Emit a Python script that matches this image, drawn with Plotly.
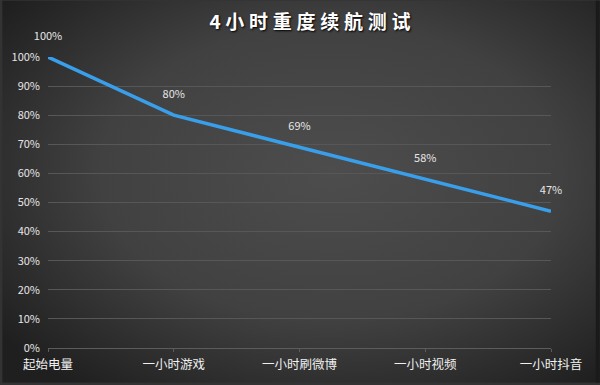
import base64
import plotly.graph_objects as go

categories = ["起始电量", "一小时游戏", "一小时刷微博", "一小时视频", "一小时抖音"]
battery = [100, 80, 69, 58, 47]
labels = ["100%", "80%", "69%", "58%", "47%"]
y_ticks = list(range(0, 101, 10))
y_tick_text = [f"{v}%" for v in y_ticks]
title = "4小时重度续航测试"

W, H = 600, 385
ML, MR, MT, MB = 46, 49, 57, 35
PW, PH = W - ML - MR, H - MT - MB

svg = (
    '<svg xmlns="http://www.w3.org/2000/svg" width="600" height="385" preserveAspectRatio="none">'
    '<defs><radialGradient id="g" cx="55%" cy="45%" r="70%">'
    '<stop offset="0" stop-color="#4d4d4d"/>'
    '<stop offset="0.55" stop-color="#414141"/>'
    '<stop offset="1" stop-color="#1f1f1f"/>'
    '</radialGradient></defs>'
    '<rect width="600" height="385" fill="url(#g)"/>'
    '<rect x="596" y="0" width="4" height="385" fill="#1a1a1a"/>'
    '</svg>'
)
bg = "data:image/svg+xml;base64," + base64.b64encode(svg.encode()).decode()

font_family = "Noto Sans CJK SC, Microsoft YaHei, sans-serif"
spaced_title = "\u2005".join(title)

fig = go.Figure()
fig.add_trace(go.Scatter(
    x=list(range(len(categories))),
    y=battery,
    mode="lines+markers+text",
    line=dict(color="#3a9fea", width=3.5),
    marker=dict(size=22, color="rgba(0,0,0,0)"),
    text=labels,
    textposition="top center",
    textfont=dict(color="#e6e6e6", size=11, family=font_family),
    hoverinfo="skip",
    cliponaxis=False,
))

fig.update_layout(
    width=W, height=H,
    margin=dict(l=ML, r=MR, t=MT, b=MB),
    paper_bgcolor="#333333",
    plot_bgcolor="rgba(0,0,0,0)",
    showlegend=False,
    images=[dict(source=bg, xref="paper", yref="paper",
                 x=-ML / PW, y=1 + MT / PH,
                 sizex=W / PW, sizey=H / PH, xanchor="left", yanchor="top",
                 sizing="stretch", layer="below")],
    title=dict(text=f"<b>{spaced_title}</b>", x=310 / W, xanchor="center", xref="container",
               y=1 - 22 / H, yanchor="middle",
               font=dict(size=19, color="#ffffff", family=font_family,
                         shadow="1px 1px 2px #000000")),
    xaxis=dict(
        tickmode="array", tickvals=list(range(len(categories))), ticktext=categories,
        range=[0, len(categories) - 1], showgrid=False, zeroline=False,
        showline=True, linecolor="#5c5c5c", linewidth=1,
        ticks="outside", ticklen=3, tickcolor="#5c5c5c",
        tickfont=dict(size=12.5, color="#f0f0f0", family=font_family),
        ticklabelstandoff=2,
    ),
    yaxis=dict(
        range=[0, 100], tickmode="array", tickvals=y_ticks, ticktext=y_tick_text,
        showgrid=True, gridcolor="#575757", gridwidth=1, zeroline=False,
        showline=False, ticks="", ticklabelstandoff=7,
        tickfont=dict(size=11, color="#e6e6e6", family=font_family),
    ),
)

fig.write_html("out.html", config={"displayModeBar": False},
               post_script="document.body.style.margin='0';document.body.style.background='#1e1e1e';")
